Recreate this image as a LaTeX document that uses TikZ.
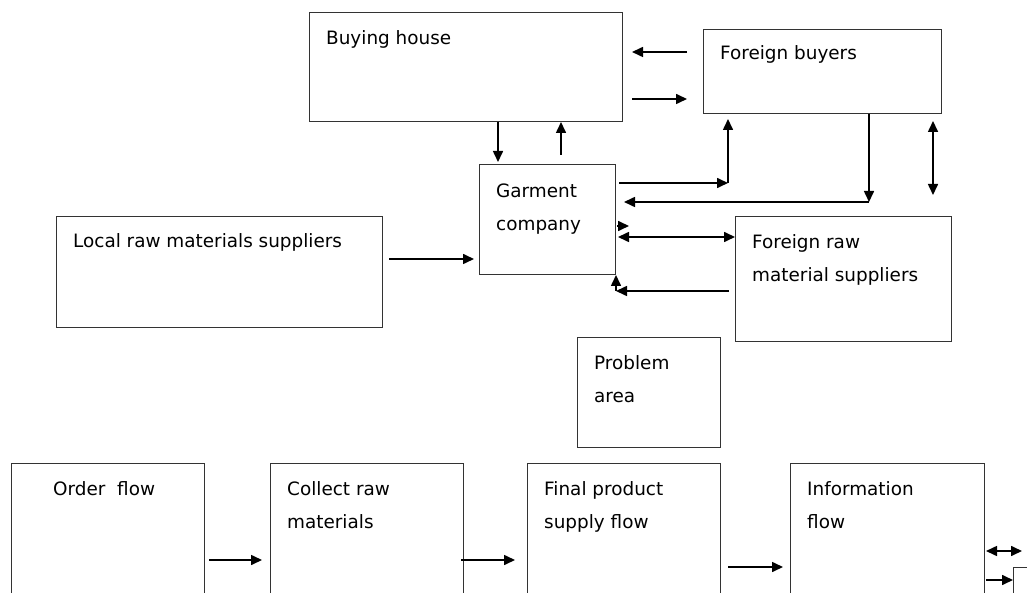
\documentclass[tikz,border=0pt]{standalone}
\usepackage{fontspec}
\setmainfont{DejaVu Sans}
\usepackage{tikz}
\usetikzlibrary{calc}
\usetikzlibrary{arrows.meta}
\usetikzlibrary{positioning}
\tikzset{>={Triangle[length=11pt,width=10pt]}}
\tikzstyle{box} = [draw=black!80, line width=1pt, anchor=north west, inner sep=0, outer sep=0]
\tikzstyle{txt} = [anchor=base west, align=left, inner sep=0, font=\fontsize{18.4}{33}\selectfont]
\tikzstyle{flow} = [->, line width=1.6pt]

\begin{document}
\begin{tikzpicture}[x=1pt, y=-1pt]
\useasboundingbox (0,0) rectangle (1027,593);
\clip (0,0) rectangle (1027,593);
\node [box, minimum width=313pt, minimum height=109pt] (B) at (309,13) {};
\node [box, minimum width=238pt, minimum height=84pt] (F) at (703,30) {};
\node [box, minimum width=136pt, minimum height=110pt] (G) at (479,165) {};
\node [box, minimum width=326pt, minimum height=110pt] (L) at (56,217) {};
\node [box, minimum width=216pt, minimum height=124pt] (R) at (735,217) {};
\node [box, minimum width=143pt, minimum height=110pt] (A) at (577,337) {};
\node [box, minimum width=193pt, minimum height=150pt] (O) at (11,463) {};
\node [box, minimum width=193pt, minimum height=150pt] (C) at (270,463) {};
\node [box, minimum width=193pt, minimum height=150pt] (P) at (527,463) {};
\node [box, minimum width=194pt, minimum height=150pt] (I) at (790,463) {};
\node [box, minimum width=40pt, minimum height=40pt] (S) at (1013,567) {};
\node [txt] (Bt) at ($(B.north west)+(17,32)$) {Buying house};
\node [txt] (Ft) at ($(F.north west)+(17,30)$) {Foreign buyers};
\node [txt] (Gt) at ($(G.north west)+(17,66)$) {Garment\\company};
\node [txt] (Lt) at ($(L.north west)+(17,31)$) {Local raw materials suppliers};
\node [txt] (Rt) at ($(R.north west)+(17,65)$) {Foreign raw\\material suppliers};
\node [txt] (At) at ($(A.north west)+(17,65)$) {Problem\\area};
\node [txt] (Ot) at ($(O.north west)+(42,32)$) {Order\ \ flow};
\node [txt] (Ct) at ($(C.north west)+(17,65)$) {Collect raw\\materials};
\node [txt] (Pt) at ($(P.north west)+(17,65)$) {Final product\\supply flow};
\node [txt] (It) at ($(I.north west)+(17,65)$) {Information\\flow};
\coordinate (c1) at ($(F.south west)+(25,69)$);
\coordinate (c2) at ($(F.south west)+(166,88)$);
\coordinate (c3) at ($(G.south east)+(1,16)$);
\draw [flow] ($(F.north west)+(-16,22)$) -- ($(B.north east)+(10,39)$);
\draw [flow] ($(B.north east)+(10,86)$) -- ($(F.north west)+(-16,69)$);
\draw [flow] ($(B.south west)+(189,0)$) -- ($(G.north west)+(19,-3)$);
\draw [flow] ($(G.north west)+(82,-10)$) -- ($(B.south west)+(252,0)$);
\draw [flow] ($(G.north east)+(4,18)$) -- (c1);
\draw [flow] (c1) -- ($(F.south west)+(25,5)$);
\draw [flow] ($(F.south west)+(166,0)$) -- (c2);
\draw [flow] (c2) -- ($(G.north east)+(9,37)$);
\draw [flow, <->] ($(F.south east)+(-8,7)$) -- ($(R.north east)+(-18,-22)$);
\draw [flow] ($(G.east)+(2,6)$) -- ($(G.east)+(14,6)$);
\draw [flow, <->] ($(G.east)+(3,17)$) -- ($(R.north west)+(0,20)$);
\draw [flow] ($(R.north west)+(-6,74)$) -- (c3);
\draw [flow] (c3) -- ($(G.south east)+(1,0)$);
\draw [flow] ($(L.east)+(7,-13)$) -- ($(G.west)+(-5,39)$);
\draw [flow] ($(O.north east)+(5,97)$) -- ($(C.north west)+(-8,97)$);
\draw [flow] ($(C.north east)+(-2,97)$) -- ($(P.north west)+(-12,97)$);
\draw [flow] ($(P.north east)+(8,104)$) -- ($(I.north west)+(-7,104)$);
\draw [flow, <->] ($(I.north east)+(2,88)$) -- ($(I.north east)+(38,88)$);
\draw [flow] ($(I.north east)+(2,117)$) -- ($(S.north west)+(0,13)$);
\end{tikzpicture}
\end{document}
